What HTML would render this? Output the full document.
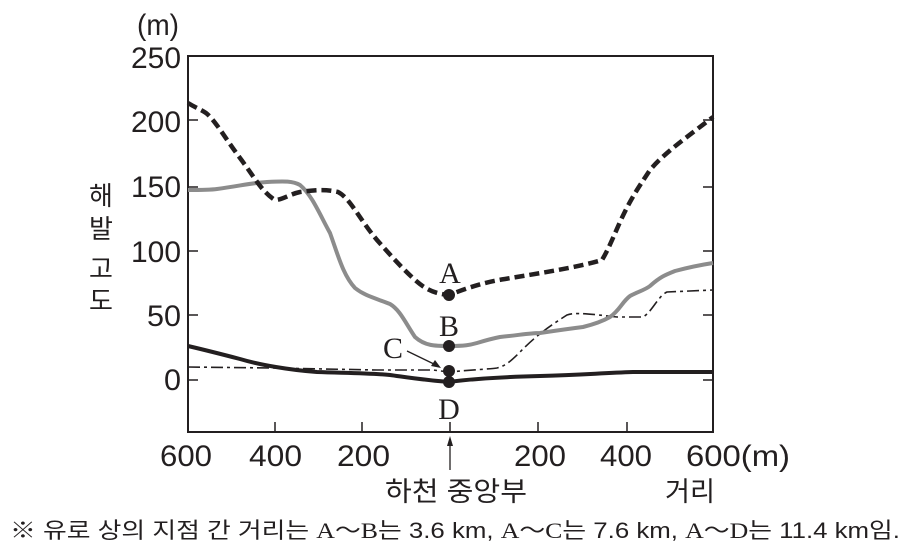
<!DOCTYPE html>
<html><head><meta charset="utf-8"><style>
html,body{margin:0;padding:0;background:#fff;}
svg{display:block;}
.t{font-family:"Liberation Sans","Noto Sans CJK KR",sans-serif;font-size:30px;fill:#231f20;}
.k{font-family:"Liberation Sans","Noto Sans CJK KR",sans-serif;fill:#231f20;}
.s{font-family:"Liberation Serif",serif;font-size:30px;fill:#231f20;}
</style></head><body>
<svg width="908" height="551" viewBox="0 0 908 551" xmlns="http://www.w3.org/2000/svg">
<rect x="188" y="56" width="525" height="376" fill="none" stroke="#231f20" stroke-width="2"/>
<g stroke="#231f20" stroke-width="1.5">
<line x1="188" y1="120" x2="198" y2="120"/><line x1="188" y1="187" x2="198" y2="187"/>
<line x1="188" y1="251" x2="198" y2="251"/><line x1="188" y1="315" x2="198" y2="315"/>
<line x1="188" y1="380" x2="198" y2="380"/>
<line x1="713" y1="120" x2="703" y2="120"/><line x1="713" y1="187" x2="703" y2="187"/>
<line x1="713" y1="251" x2="703" y2="251"/><line x1="713" y1="315" x2="703" y2="315"/>
<line x1="713" y1="380" x2="703" y2="380"/>
<line x1="275" y1="432" x2="275" y2="422"/><line x1="362" y1="432" x2="362" y2="422"/>
<line x1="538" y1="432" x2="538" y2="422"/><line x1="627" y1="432" x2="627" y2="422"/>
<line x1="450" y1="432" x2="450" y2="422"/>
</g>
<path d="M188,346 C205,350 217,353 240,359 C260,365 290,370 317,372 C345,373 370,373 390,375 C405,377 423,380 449,382 C470,379 500,377 540,376 C583,375 600,373 633,372 L713,372" fill="none" stroke="#231f20" stroke-width="4"/>
<path d="M188,367 L273,368 L377,370 L433,370 L449,372 C470,370 490,369 497,368 C505,366 510,362 520,352 C530,342 540,332 567,315 C575,312 590,314 617,317 L643,317 C652,312 658,296 667,292 L713,290" fill="none" stroke="#231f20" stroke-width="1.6" stroke-dasharray="12,4,3,4"/>
<path d="M188,190 C200,190 210,190 217,189 C240,186 250,183 267,182 C285,181 293,181 300,185 C312,195 320,215 330,233 C338,255 343,275 355,288 C365,296 375,298 390,304 C400,310 405,322 415,337 C425,346 435,346 449,346 C465,346 470,345 477,343 C490,339 495,338 500,337 C520,335 530,333 540,333 C560,330 575,328 583,327 C595,324 603,321 610,317 C620,310 622,302 630,296 C637,292 645,290 650,286 C660,277 665,275 675,271 C690,267 700,265 713,263" fill="none" stroke="#8c8c8c" stroke-width="4"/>
<path d="M188,103 C196,108 200,109 206,113 C215,120 225,138 240,158 C255,178 262,192 275,200 C282,200 290,194 300,192 C315,190 325,189 338,192 C350,198 360,220 377,240 C393,258 400,266 415,280 C425,289 435,294 449,295 C470,287 485,282 505,279 C540,273 575,268 602,260 C608,250 612,240 620,222 C630,200 638,188 650,170 C665,152 690,135 713,117" fill="none" stroke="#231f20" stroke-width="4.5" stroke-dasharray="10,5"/>
<g fill="#231f20">
<circle cx="449" cy="295" r="6"/><circle cx="449" cy="346" r="6"/>
<circle cx="449" cy="371" r="6"/><circle cx="449" cy="382" r="6"/>
</g>
<text class="s" x="450" y="283" text-anchor="middle">A</text>
<text class="s" x="449" y="336" text-anchor="middle">B</text>
<text class="s" x="393" y="358" text-anchor="middle">C</text>
<text class="s" x="449" y="419" text-anchor="middle">D</text>
<line x1="407" y1="351" x2="438" y2="366" stroke="#231f20" stroke-width="1.3"/>
<path d="M441,368 L431,366 L435,360 Z" fill="#231f20"/>
<line x1="450" y1="470" x2="450" y2="440" stroke="#231f20" stroke-width="1.3"/>
<path d="M450,436 L447,446 L453,446 Z" fill="#231f20"/>
<text class="t" x="158" y="35" textLength="42" lengthAdjust="spacingAndGlyphs" text-anchor="middle">(m)</text>
<g class="t" text-anchor="end">
<text x="181" y="68" textLength="50" lengthAdjust="spacingAndGlyphs">250</text>
<text x="181" y="132" textLength="50" lengthAdjust="spacingAndGlyphs">200</text>
<text x="181" y="197" textLength="50" lengthAdjust="spacingAndGlyphs">150</text>
<text x="181" y="262" textLength="50" lengthAdjust="spacingAndGlyphs">100</text>
<text x="181" y="326" textLength="34" lengthAdjust="spacingAndGlyphs">50</text>
<text x="181" y="390" textLength="17" lengthAdjust="spacingAndGlyphs">0</text>
</g>
<g class="k" font-size="26" text-anchor="middle">
<text x="101" y="205">해</text><text x="101" y="238">발</text>
<text x="101" y="278">고</text><text x="101" y="310">도</text>
</g>
<g class="t">
<text x="160" y="466" textLength="52" lengthAdjust="spacingAndGlyphs">600</text>
<text x="249" y="466" textLength="53" lengthAdjust="spacingAndGlyphs">400</text>
<text x="337" y="466" textLength="53" lengthAdjust="spacingAndGlyphs">200</text>
<text x="514" y="466" textLength="52" lengthAdjust="spacingAndGlyphs">200</text>
<text x="600" y="466" textLength="52" lengthAdjust="spacingAndGlyphs">400</text>
<text x="686" y="466" textLength="104" lengthAdjust="spacingAndGlyphs">600(m)</text>
</g>
<text class="k" font-size="27" x="385" y="501" textLength="142" lengthAdjust="spacingAndGlyphs">하천 중앙부</text>
<text class="k" font-size="27" x="665" y="501" textLength="50" lengthAdjust="spacingAndGlyphs">거리</text>
<text class="k" font-size="22" x="10" y="538" textLength="890" lengthAdjust="spacingAndGlyphs">※ 유로 상의 지점 간 거리는 <tspan font-family="Liberation Serif">A～B</tspan>는 3.6 km, <tspan font-family="Liberation Serif">A～C</tspan>는 7.6 km, <tspan font-family="Liberation Serif">A～D</tspan>는 11.4 km임.</text>
</svg>
</body></html>
